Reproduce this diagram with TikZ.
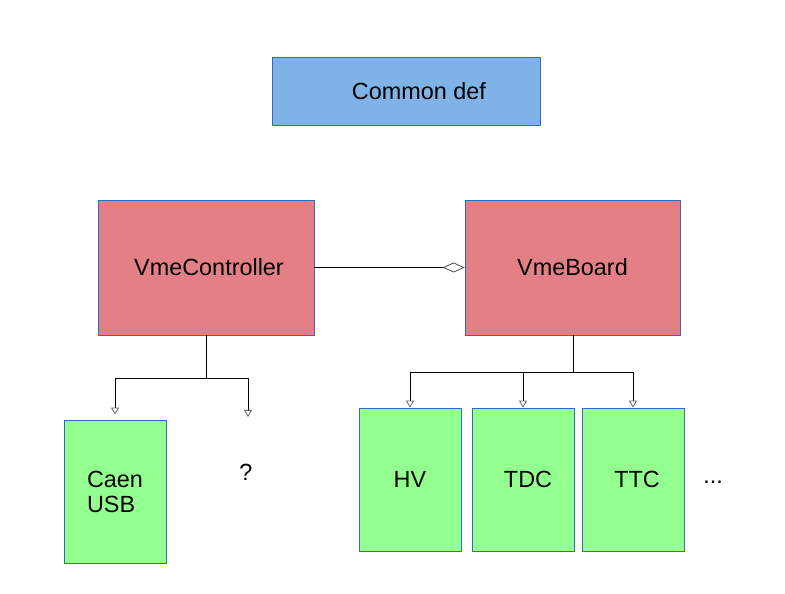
\documentclass[tikz,border=0pt]{standalone}
\usepackage{fontspec}
\setmainfont{Liberation Sans}
\usetikzlibrary{arrows.meta}
\definecolor{defblue}{HTML}{7FB2E5}
\definecolor{vmered}{HTML}{E38085}
\definecolor{boardgreen}{HTML}{93FF8F}
\definecolor{edgeblue}{HTML}{3568C0}
\tikzset{
  box/.style={draw=edgeblue,line width=0.8bp,inner sep=0pt,font=\fontsize{23.5}{25}\selectfont},
  tri/.style={-{Triangle[open,length=7bp,width=8bp,color=black!60]},line width=0.8bp},
}
\begin{document}
\begin{tikzpicture}[>=latex,line join=bevel,]
\useasboundingbox (0bp,0bp) rectangle (785bp,594bp);
%%
\node (node_def) at (406.0bp,503.0bp) [box,fill=defblue,minimum width=268bp,minimum height=68bp] {\hspace*{26bp}Common def};
  \node (node_ctrl) at (206.0bp,326.5bp) [box,fill=vmered,minimum width=216bp,minimum height=135bp] {\hspace*{6bp}VmeController};
  \node (node_board) at (572.5bp,326.5bp) [box,fill=vmered,minimum width=215bp,minimum height=135bp] {VmeBoard};
  \node (node_caen) at (115.0bp,102.5bp) [box,fill=boardgreen,minimum width=102bp,minimum height=143bp,align=left] {Caen\\USB};
  \node (node_hv) at (410.0bp,114.5bp) [box,fill=boardgreen,minimum width=102bp,minimum height=143bp] {HV};
  \node (node_tdc) at (523.0bp,114.5bp) [box,fill=boardgreen,minimum width=102bp,minimum height=143bp] {\hspace*{10bp}TDC};
  \node (node_ttc) at (633.0bp,114.5bp) [box,fill=boardgreen,minimum width=102bp,minimum height=143bp] {\hspace*{8bp}TTC};
  \node (node_q) at (246.0bp,122.0bp) [font=\fontsize{23.5}{25}\selectfont] {?};
  \node (node_more) at (713.0bp,112.0bp) [font=\fontsize{23.5}{25}\selectfont] {...};
%
  \coordinate (split_0) at (206.0bp,216.0bp);
  \coordinate (split_1) at (573.0bp,222.0bp);
  \coordinate (q_in) at (248.0bp,177.0bp);
  \draw [line width=0.8bp,-{Diamond[open,length=22bp,width=10bp,color=black!70]}] (node_ctrl.east) -- (node_board.west);
  \draw [tri,shorten >=5bp] (node_ctrl.south) -- (split_0) -| (node_caen.north);
  \draw [tri] (split_0) -| (q_in);
  \draw [tri] (node_board.south -| split_1) -- (split_1) -| (node_hv.north);
  \draw [tri] (split_1 -| node_tdc.north) -- (node_tdc.north);
  \draw [tri] (split_1) -| (node_ttc.north);
%
\end{tikzpicture}
\end{document}
